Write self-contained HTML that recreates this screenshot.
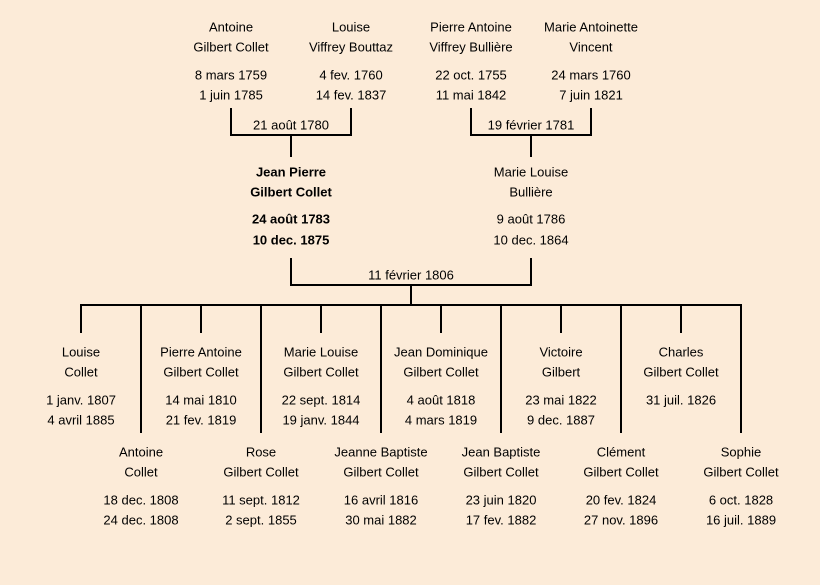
<!DOCTYPE html>
<html><head><meta charset="utf-8"><style>
html,body{margin:0;padding:0;background:#fcebd8;}
svg{display:block}
text{font-family:"Liberation Sans","DejaVu Sans",sans-serif;font-size:13px;fill:#000;text-anchor:middle;dominant-baseline:central}
.b{font-weight:bold}
line,polyline{stroke:#000;stroke-width:2;fill:none}
</style></head><body>
<svg width="820" height="585" viewBox="0 0 820 585" xmlns="http://www.w3.org/2000/svg">
<rect width="820" height="585" fill="#fcebd8"/>
<!-- top brackets -->
<polyline points="231,108 231,135 351,135 351,108"/>
<line x1="291" y1="135" x2="291" y2="157"/>
<polyline points="471,108 471,135 591,135 591,108"/>
<line x1="531" y1="135" x2="531" y2="157"/>
<polyline points="291,258 291,285 531,285 531,258"/>
<line x1="411" y1="285" x2="411" y2="305"/>
<line x1="80" y1="305" x2="742" y2="305"/>
<line x1="81" y1="305" x2="81" y2="333"/>
<line x1="201" y1="305" x2="201" y2="333"/>
<line x1="321" y1="305" x2="321" y2="333"/>
<line x1="441" y1="305" x2="441" y2="333"/>
<line x1="561" y1="305" x2="561" y2="333"/>
<line x1="681" y1="305" x2="681" y2="333"/>
<line x1="141" y1="305" x2="141" y2="433"/>
<line x1="261" y1="305" x2="261" y2="433"/>
<line x1="381" y1="305" x2="381" y2="433"/>
<line x1="501" y1="305" x2="501" y2="433"/>
<line x1="621" y1="305" x2="621" y2="433"/>
<line x1="741" y1="305" x2="741" y2="433"/>

<text x="291" y="125">21 août 1780</text>
<text x="531" y="125">19 février 1781</text>
<text x="411" y="275">11 février 1806</text>

<text x="231" y="27">Antoine</text><text x="231" y="47">Gilbert Collet</text><text x="231" y="75">8 mars 1759</text><text x="231" y="95">1 juin 1785</text>
<text x="351" y="27">Louise</text><text x="351" y="47">Viffrey Bouttaz</text><text x="351" y="75">4 fev. 1760</text><text x="351" y="95">14 fev. 1837</text>
<text x="471" y="27">Pierre Antoine</text><text x="471" y="47">Viffrey Bullière</text><text x="471" y="75">22 oct. 1755</text><text x="471" y="95">11 mai 1842</text>
<text x="591" y="27">Marie Antoinette</text><text x="591" y="47">Vincent</text><text x="591" y="75">24 mars 1760</text><text x="591" y="95">7 juin 1821</text>

<text class="b" x="291" y="172">Jean Pierre</text><text class="b" x="291" y="192">Gilbert Collet</text><text class="b" x="291" y="219">24 août 1783</text><text class="b" x="291" y="240">10 dec. 1875</text>
<text x="531" y="172">Marie Louise</text><text x="531" y="192">Bullière</text><text x="531" y="219">9 août 1786</text><text x="531" y="240">10 dec. 1864</text>

<text x="81" y="352">Louise</text><text x="81" y="372">Collet</text><text x="81" y="400">1 janv. 1807</text><text x="81" y="420">4 avril 1885</text>
<text x="201" y="352">Pierre Antoine</text><text x="201" y="372">Gilbert Collet</text><text x="201" y="400">14 mai 1810</text><text x="201" y="420">21 fev. 1819</text>
<text x="321" y="352">Marie Louise</text><text x="321" y="372">Gilbert Collet</text><text x="321" y="400">22 sept. 1814</text><text x="321" y="420">19 janv. 1844</text>
<text x="441" y="352">Jean Dominique</text><text x="441" y="372">Gilbert Collet</text><text x="441" y="400">4 août 1818</text><text x="441" y="420">4 mars 1819</text>
<text x="561" y="352">Victoire</text><text x="561" y="372">Gilbert</text><text x="561" y="400">23 mai 1822</text><text x="561" y="420">9 dec. 1887</text>
<text x="681" y="352">Charles</text><text x="681" y="372">Gilbert Collet</text><text x="681" y="400">31 juil. 1826</text>

<text x="141" y="452">Antoine</text><text x="141" y="472">Collet</text><text x="141" y="500">18 dec. 1808</text><text x="141" y="520">24 dec. 1808</text>
<text x="261" y="452">Rose</text><text x="261" y="472">Gilbert Collet</text><text x="261" y="500">11 sept. 1812</text><text x="261" y="520">2 sept. 1855</text>
<text x="381" y="452">Jeanne Baptiste</text><text x="381" y="472">Gilbert Collet</text><text x="381" y="500">16 avril 1816</text><text x="381" y="520">30 mai 1882</text>
<text x="501" y="452">Jean Baptiste</text><text x="501" y="472">Gilbert Collet</text><text x="501" y="500">23 juin 1820</text><text x="501" y="520">17 fev. 1882</text>
<text x="621" y="452">Clément</text><text x="621" y="472">Gilbert Collet</text><text x="621" y="500">20 fev. 1824</text><text x="621" y="520">27 nov. 1896</text>
<text x="741" y="452">Sophie</text><text x="741" y="472">Gilbert Collet</text><text x="741" y="500">6 oct. 1828</text><text x="741" y="520">16 juil. 1889</text>
</svg>
</body></html>
